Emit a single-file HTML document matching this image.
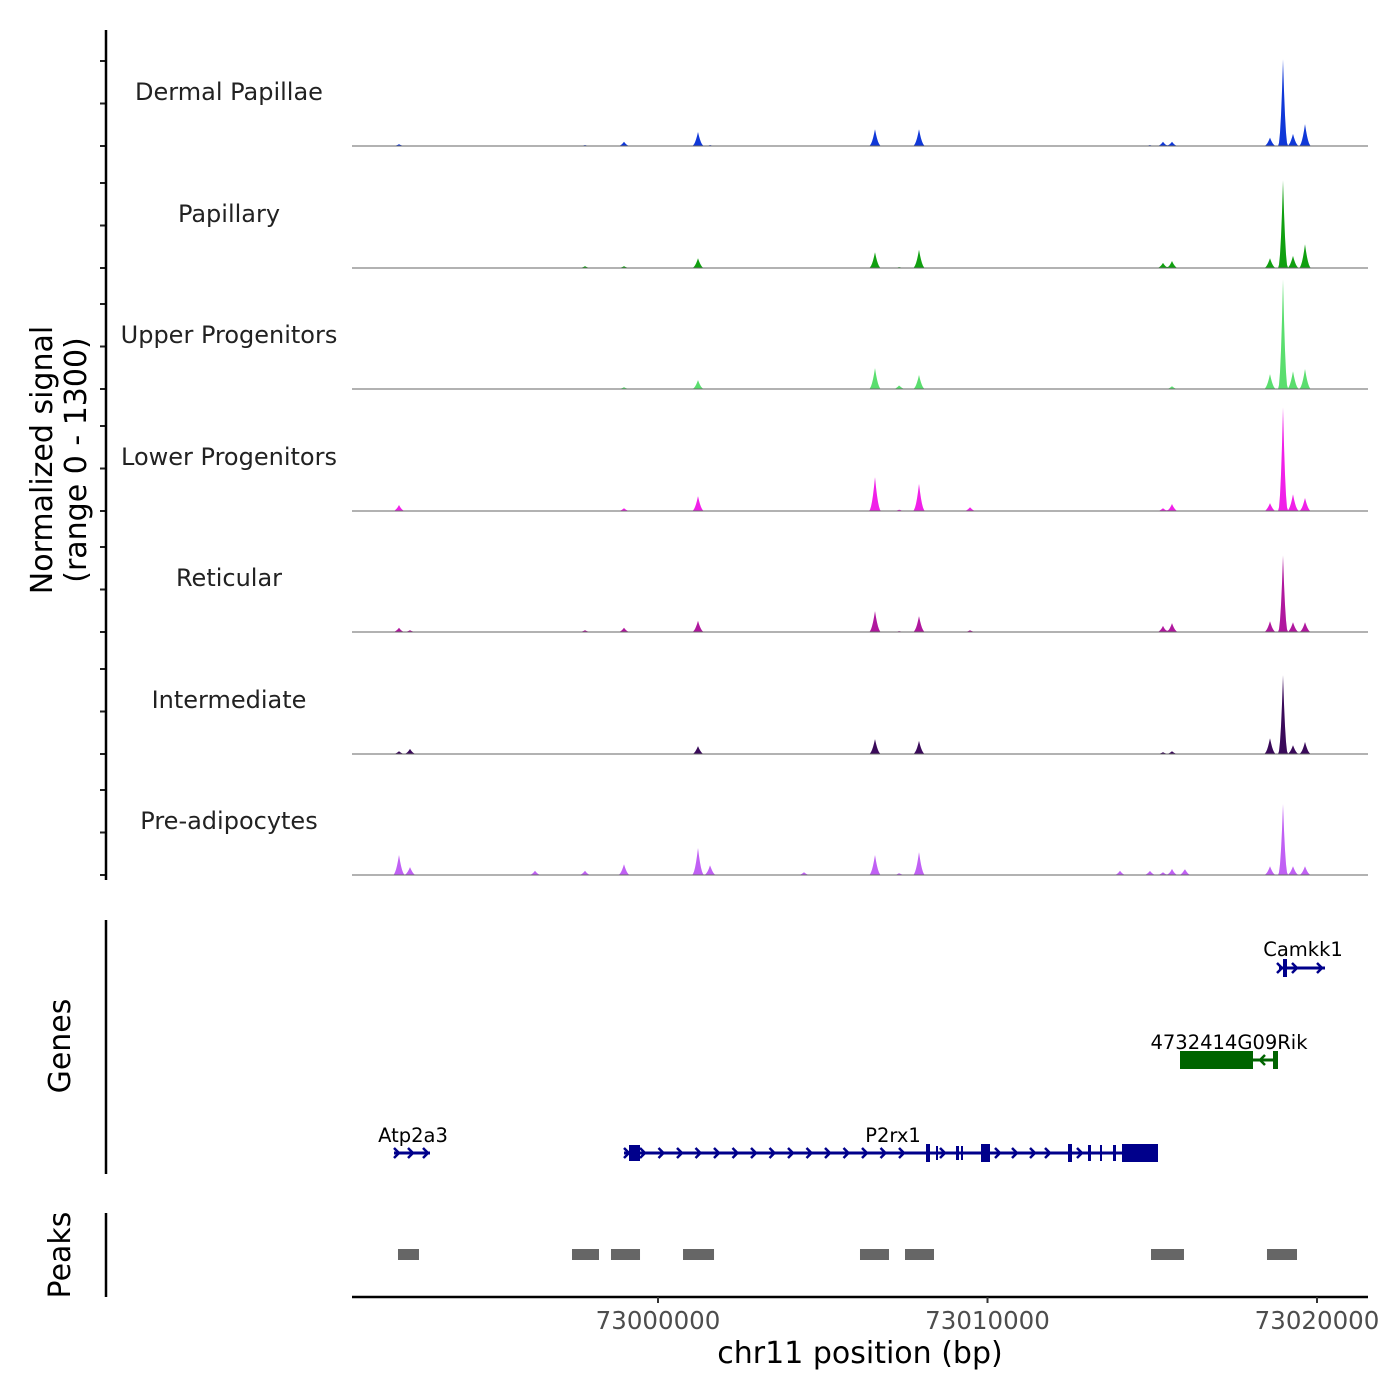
<!DOCTYPE html>
<html><head><meta charset="utf-8">
<style>
html,body{margin:0;padding:0;background:#fff;}
svg{display:block;font-family:"DejaVu Sans","Liberation Sans",sans-serif;}
</style></head>
<body>
<svg id="chart" width="1400" height="1400" viewBox="0 0 1400 1400" xmlns="http://www.w3.org/2000/svg"></svg>
<script>
// ---- data ----
const trackNames = ["Dermal Papillae","Papillary","Upper Progenitors","Lower Progenitors","Reticular","Intermediate","Pre-adipocytes"];
const trackColors = ["#1038d8","#10a010","#5ade6e","#f020e8","#b0189e","#3a0a5a","#c060f4"];
const peakPos = [72992139,72992473,72996267,72997784,72998968,73001214,73001580,73004430,73006585,73007320,73007921,73009470,73014021,73014930,73015326,73015599,73015990,73018573,73018968,73019271,73019636];
const sigDP  = [20,0,0,10,45,150,10,0,180,0,180,0,0,10,45,45,0,90,930,130,235];
const sigPap = [0,0,0,20,20,105,0,0,170,10,195,0,0,0,55,75,0,105,940,130,255];
const sigUP  = [0,0,0,0,20,95,0,0,225,40,150,0,0,0,0,30,0,160,1175,190,215];
const sigLP  = [65,0,0,0,30,160,0,0,365,15,290,40,0,0,30,75,0,85,1110,180,140];
const sigRet = [45,20,0,20,45,120,0,0,225,10,170,20,0,0,65,95,0,115,820,105,105];
const sigInt = [30,55,0,0,0,85,0,0,160,0,140,0,0,0,20,30,0,170,845,95,130];
const sigPre = [215,85,45,45,115,290,105,30,215,20,245,0,45,45,30,65,65,95,760,95,95];
const trackSignals = [sigDP,sigPap,sigUP,sigLP,sigRet,sigInt,sigPre];
const xTicks = [73000000,73010000,73020000];
const peakRegions = [[72992109,72992746],[72997390,72998209],[72998573,72999454],[73000759,73001700],[73006130,73007010],[73007496,73008376],[73014962,73015963],[73018482,73019393]];

// ---- scales ----
const X0=352, X1=1368, BP0=72990713, PXPERBP=0.03295;
const xs = bp => X0 + (bp-BP0)*PXPERBP;
const baselines=[146,268,389,511,632,754,875];
const yScale = v => v*121.5/1300;
const NS="http://www.w3.org/2000/svg";
const svg=document.getElementById('chart');
function mk(tag,attrs,parent){const e=document.createElementNS(NS,tag);for(const k in attrs)e.setAttribute(k,attrs[k]);(parent||svg).appendChild(e);return e;}
function txt(s,attrs,parent){const e=mk('text',attrs,parent);e.textContent=s;return e;}

// tracks
const peakHalfW=190; // bp
trackNames.forEach((name,t)=>{
  const g=mk('g',{});
  
  
  const b=baselines[t];
  let d='M'+X0+','+b;
  for(let px=X0;px<=X1;px+=1){
    const bp=BP0+(px-X0)/PXPERBP;
    let v=0;
    peakPos.forEach((p,i)=>{const hw=(i===18?150:peakHalfW);const r=Math.abs(bp-p)/hw;if(r<1)v+=trackSignals[t][i]*(1-r)*(1-r);});
    d+=' L'+px+','+(b-yScale(v)).toFixed(1);
  }
  d+=' L'+X1+','+b+' Z';
  const a=mk('path',{d:d,fill:trackColors[t],stroke:'none'},g);
  
  
  const l=mk('line',{x1:X0,x2:X1,y1:b,y2:b,stroke:'#666','stroke-width':1},g);
  
  
  const lab=txt(name,{x:229,y:b-46,'text-anchor':'middle','font-size':24,fill:'#222'},g);
  
  
  [0,42.5,85].forEach(o=>{const tk=mk('line',{x1:100,x2:106,y1:b-o,y2:b-o,stroke:'#222','stroke-width':2},g);
    });
});
let ax=mk('line',{x1:106,x2:106,y1:30,y2:880,stroke:'#000','stroke-width':2.5});

let yt=txt('Normalized signal',{transform:'translate(52,460) rotate(-90)','text-anchor':'middle','font-size':30,fill:'#000'});

yt=txt('(range 0 - 1300)',{transform:'translate(86,460) rotate(-90)','text-anchor':'middle','font-size':30,fill:'#000'});


// genes
const gg=mk('g',{});
ax=mk('line',{x1:106,x2:106,y1:920,y2:1174,stroke:'#000','stroke-width':2.5},gg);

yt=txt('Genes',{transform:'translate(70,1046) rotate(-90)','text-anchor':'middle','font-size':30},gg);

function chev(x,y,dir,col,p){const s=dir*5;mk('path',{d:`M${x-s},${y-5} L${x},${y} L${x-s},${y+5}`,stroke:col,'stroke-width':2.5,fill:'none'},p);}
function gene(name,lx,ly,y,x1,x2,col,exons,chevs,dir){
  const g=mk('g',{},gg);
  mk('line',{x1:x1,x2:x2,y1:y,y2:y,stroke:col,'stroke-width':3},g);
  exons.forEach(e=>mk('rect',{x:e[0],y:y-e[2]/2,width:e[1]-e[0],height:e[2],fill:col},g));
  chevs.forEach(c=>chev(c,y,dir,col,g));
  const t=txt(name,{x:lx,y:ly,'text-anchor':'middle','font-size':19.5,fill:'#000'},g);
  
}
gene('Atp2a3',413,1142,1153,394,430,'#00008b',[],[399,413,428],1);
const p2ch=[];for(let x=645;x<=912;x+=18.5)p2ch.push(x);p2ch.push(945,1000,1017,1035,1050,1082);
gene('P2rx1',893,1142,1153,624,1158,'#00008b',[[629,640,16],[926,930,18],[936,938,14],[956,959,14],[961,963,14],[981,990,18],[1068,1072,18],[1088,1091,16],[1100,1102,16],[1113,1116,16],[1122,1158,18]],[629].concat(p2ch),1);
gene('4732414G09Rik',1229,1049,1060,1180,1278,'#006400',[[1180,1253,18],[1273,1278,18]],[1260],-1);
gene('Camkk1',1303,956,968,1279,1325,'#00008b',[[1283,1287,18]],[1282,1297,1322],1);

// peaks
const pg=mk('g',{});
ax=mk('line',{x1:106,x2:106,y1:1213,y2:1297,stroke:'#000','stroke-width':2.5},pg);

yt=txt('Peaks',{transform:'translate(70,1255) rotate(-90)','text-anchor':'middle','font-size':30},pg);

peakRegions.forEach(r=>{const e=mk('rect',{x:xs(r[0]),y:1249,width:xs(r[1])-xs(r[0]),height:11,fill:'#666'},pg);
  });

// x axis
const xg=mk('g',{});
mk('line',{x1:X0,x2:X1,y1:1297,y2:1297,stroke:'#000','stroke-width':2.5},xg);
xTicks.forEach(v=>{const x=xs(v);
  const tk=mk('line',{x1:x,x2:x,y1:1297,y2:1303,stroke:'#333','stroke-width':2},xg);
  
  const t=txt(String(v),{x:x,y:1329,'text-anchor':'middle','font-size':24.5,fill:'#4d4d4d'},xg);
  });
yt=txt('chr11 position (bp)',{x:860,y:1363,'text-anchor':'middle','font-size':30,fill:'#000'},xg);

</script>
</body></html>
